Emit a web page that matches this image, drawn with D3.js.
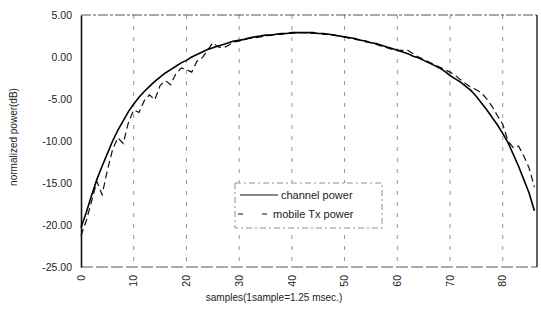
<!DOCTYPE html>
<html>
<head>
    <meta charset="utf-8">
    <title>channel power</title>
    <script src="https://d3js.org/d3.v7.min.js"></script>
    <style>
        body { margin: 0; background: #fff; }
        text { font-family: "Liberation Sans", Arial, sans-serif; fill: #222; }
    </style>
</head>
<body>
    <svg width="541" height="316" id="mainsvg"></svg>
    <script>
        // samples 0..86
        const channelPower = [
            -20.3, -18.5, -16.5, -14.6, -13.0, -11.5, -10.0, -8.7, -7.6, -6.5,
            -5.6, -4.8, -4.1, -3.5, -2.9, -2.4, -1.9, -1.5, -1.1, -0.7,
            -0.4, 0.0, 0.3, 0.6, 0.9, 1.1, 1.3, 1.5, 1.7, 1.9,
            2.0, 2.1, 2.3, 2.4, 2.5, 2.6, 2.6, 2.7, 2.8, 2.8,
            2.9, 2.9, 2.9, 2.9, 2.9, 2.8, 2.8, 2.7, 2.6, 2.5,
            2.4, 2.3, 2.2, 2.0, 1.9, 1.7, 1.6, 1.4, 1.2, 1.0,
            0.8, 0.6, 0.4, 0.1, -0.1, -0.4, -0.7, -1.0, -1.3, -1.7,
            -2.2, -2.6, -3.0, -3.5, -4.0, -4.7, -5.5, -6.3, -7.2, -8.1,
            -9.1, -10.2, -11.6, -13.0, -14.6, -16.2, -18.3
        ];
        const mobileTxPower = [
            -21.3, -19.5, -17.2, -14.8, -16.4, -13.5, -11.0, -9.6, -10.3, -7.8,
            -6.3, -6.6, -5.2, -4.5, -5.1, -3.4, -2.8, -3.3, -2.0, -1.3,
            -1.5, -1.8, -0.5, -0.1, 0.8, 1.7, 1.2, 1.1, 1.4, 1.8,
            1.9, 2.1, 2.2, 2.3, 2.4, 2.5, 2.6, 2.7, 2.7, 2.8,
            2.8, 2.9, 2.9, 2.9, 2.8, 2.8, 2.7, 2.7, 2.6, 2.5,
            2.4, 2.2, 2.1, 2.0, 1.8, 1.7, 1.5, 1.3, 1.1, 0.9,
            0.8, 0.8, 0.8, 0.4, 0.0, -0.3, -0.6, -0.9, -1.2, -1.5,
            -1.8, -2.2, -2.7, -3.2, -3.6, -3.9, -4.3, -5.0, -5.9, -7.0,
            -8.0, -10.0, -10.8, -10.6, -11.8, -13.2, -15.5
        ];
        const xTicks = [0, 10, 20, 30, 40, 50, 60, 70, 80];
        const yTicks = [5, 0, -5, -10, -15, -20, -25];
        const seriesNames = ['channel power', 'mobile Tx power'];

        const svg = d3.select('#mainsvg');
        const pLeft = 81, pRight = 537, pTop = 15, pBottom = 267;

        const x = d3.scaleLinear().domain([0, 86.5]).range([pLeft, pRight]);
        const y = d3.scaleLinear().domain([-25, 5]).range([pBottom, pTop]);

        // vertical grid lines
        svg.append('g').selectAll('line').data(xTicks.slice(1)).enter().append('line')
            .attr('x1', d => x(d)).attr('x2', d => x(d))
            .attr('y1', pTop).attr('y2', pBottom)
            .attr('stroke', '#777').attr('stroke-width', 0.8)
            .attr('stroke-dasharray', '4,7');

        // frame
        svg.append('line').attr('x1', pLeft).attr('x2', pRight).attr('y1', pTop).attr('y2', pTop)
            .attr('stroke', '#444').attr('stroke-width', 0.9).attr('stroke-dasharray', '10,2,3,2');
        svg.append('line').attr('x1', pLeft).attr('x2', pRight).attr('y1', pBottom).attr('y2', pBottom)
            .attr('stroke', '#444').attr('stroke-width', 0.9).attr('stroke-dasharray', '12,3');
        svg.append('line').attr('x1', pRight).attr('x2', pRight).attr('y1', pTop).attr('y2', pBottom)
            .attr('stroke', '#222').attr('stroke-width', 1.4);

        // y axis (plain hyphen for minus, as in the original)
        const fmt = d3.format('.2f');
        const yAxis = d3.axisLeft(y).tickValues(yTicks).tickSize(0).tickPadding(9)
            .tickFormat(d => fmt(d).replace('\u2212', '-'));
        const gy = svg.append('g').attr('transform', `translate(${pLeft},0)`).call(yAxis);
        gy.select('.domain').attr('stroke', '#111').attr('stroke-width', 1.6);
        gy.selectAll('text').attr('font-size', 10.5).attr('fill', '#222')
            .attr('font-family', '"Liberation Sans", Arial, sans-serif');

        // x tick labels (rotated)
        svg.append('g').selectAll('text').data(xTicks).enter().append('text')
            .attr('transform', d => `translate(${x(d)},275) rotate(-90)`)
            .attr('text-anchor', 'end').attr('dy', '0.35em')
            .attr('font-size', 10.5)
            .text(d => d);

        // axis titles
        svg.append('text').attr('x', 274).attr('y', 301)
            .attr('text-anchor', 'middle').attr('font-size', 10)
            .text('samples(1sample=1.25 msec.)');
        svg.append('text')
            .attr('transform', `translate(17,137) rotate(-90)`)
            .attr('text-anchor', 'middle').attr('font-size', 10).attr('fill', '#555')
            .text('normalized power(dB)');

        // series
        const line = d3.line().x((d, i) => x(i)).y(d => y(d));
        svg.append('path').datum(mobileTxPower).attr('d', line)
            .attr('fill', 'none').attr('stroke', '#111').attr('stroke-width', 1.2)
            .attr('stroke-dasharray', '7,4');
        svg.append('path').datum(channelPower).attr('d', line)
            .attr('fill', 'none').attr('stroke', '#000').attr('stroke-width', 1.6);

        // legend
        const lg = svg.append('g');
        lg.append('rect').attr('x', 235).attr('y', 183).attr('width', 147).attr('height', 45)
            .attr('fill', '#fff').attr('stroke', '#777').attr('stroke-width', 0.8)
            .attr('stroke-dasharray', '6,3,2,3');
        lg.append('line').attr('x1', 240).attr('x2', 278).attr('y1', 195).attr('y2', 195)
            .attr('stroke', '#111').attr('stroke-width', 1.2);
        lg.append('line').attr('x1', 238).attr('x2', 268).attr('y1', 214).attr('y2', 214)
            .attr('stroke', '#111').attr('stroke-width', 1.2).attr('stroke-dasharray', '5,19');
        lg.append('text').attr('x', 281).attr('y', 198.5).attr('font-size', 11).text(seriesNames[0]);
        lg.append('text').attr('x', 273).attr('y', 217.5).attr('font-size', 11).text(seriesNames[1]);
    </script>
</body>
</html>
